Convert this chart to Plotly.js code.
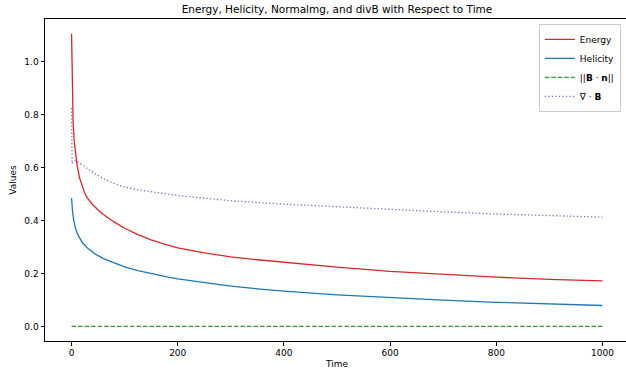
<!DOCTYPE html>
<html>
<head>
<meta charset="utf-8">
<script src="https://cdn.plot.ly/plotly-3.0.1.min.js"></script>
<style>html,body{margin:0;padding:0;background:#fff;overflow:hidden;}#chart{width:629px;height:369px;}</style>
</head>
<body>
<div id="chart"></div>
<script>
// Data
const energyT = [0, 1, 2, 3, 5, 7, 10, 15, 20, 25, 30, 40, 50, 60, 80, 100, 125, 150, 175, 200, 250, 300, 350, 400, 500, 600, 700, 800, 900, 1000];
const energyV = [1.107, 0.93, 0.83, 0.77, 0.70, 0.662, 0.615, 0.562, 0.528, 0.503, 0.485, 0.46, 0.44, 0.423, 0.395, 0.371, 0.347, 0.327, 0.311, 0.297, 0.278, 0.263, 0.252, 0.242, 0.224, 0.208, 0.196, 0.186, 0.178, 0.172];

const helicityT = [0, 1, 2, 4, 8, 12, 20, 30, 45, 60, 80, 100, 125, 150, 180, 200, 250, 300, 350, 400, 500, 600, 700, 800, 900, 1000];
const helicityV = [0.485, 0.452, 0.432, 0.402, 0.367, 0.346, 0.318, 0.296, 0.273, 0.256, 0.239, 0.225, 0.211, 0.199, 0.187, 0.18, 0.165, 0.152, 0.142, 0.133, 0.119, 0.108, 0.099, 0.091, 0.085, 0.079];

const normalT = [0, 1000];
const normalV = [0, 0];

const divBT = [0, 1, 2, 5, 8, 12, 20, 33, 45, 58, 75, 90, 115, 150, 180, 200, 250, 300, 400, 500, 600, 700, 800, 900, 1000];
const divBV = [0.826, 0.615, 0.62, 0.625, 0.627, 0.622, 0.61, 0.592, 0.576, 0.561, 0.545, 0.533, 0.52, 0.508, 0.5, 0.495, 0.484, 0.475, 0.462, 0.452, 0.441, 0.433, 0.425, 0.419, 0.413];

const xTicks = [0, 200, 400, 600, 800, 1000];
const yTicks = [0.0, 0.2, 0.4, 0.6, 0.8, 1.0];

const font = {family: 'DejaVu Sans', size: 9, color: '#000'};

const traces = [
  {x: energyT, y: energyV, mode: 'lines', name: 'Energy', line: {color: '#d62728', width: 1.3}},
  {x: helicityT, y: helicityV, mode: 'lines', name: 'Helicity', line: {color: '#1f77b4', width: 1.3}},
  {x: normalT, y: normalV, mode: 'lines', name: '||<b>B</b> · <b>n</b>||', line: {color: '#2ca02c', width: 1.3, dash: '4.5px,2px'}},
  {x: divBT, y: divBV, mode: 'lines', name: '∇ · <b>B</b>', line: {color: '#9467bd', width: 1.3, dash: '1.3px,2.2px'}}
];

const layout = {
  width: 629, height: 369,
  margin: {l: 45, r: 0, t: 19, b: 28},
  paper_bgcolor: '#fff', plot_bgcolor: '#fff',
  font: font,
  title: {text: 'Energy, Helicity, Normalmg, and divB with Respect to Time', font: {family: 'DejaVu Sans', size: 10.5, color: '#000'}, xref: 'paper', x: 0.5, xanchor: 'center', yref: 'container', y: 0.975, yanchor: 'middle'},
  xaxis: {
    range: [-50, 1050], tickvals: xTicks, ticktext: xTicks.map(String),
    showgrid: false, zeroline: false, showline: true, mirror: true, linecolor: '#000', linewidth: 1,
    ticks: 'outside', ticklen: 3.5, tickcolor: '#000', tickfont: font,
    title: {text: 'Time', font: font, standoff: 4}
  },
  yaxis: {
    range: [-0.0553, 1.1623], tickvals: yTicks, ticktext: yTicks.map(v => v.toFixed(1)),
    showgrid: false, zeroline: false, showline: true, mirror: true, linecolor: '#000', linewidth: 1,
    ticks: 'outside', ticklen: 3.5, tickcolor: '#000', tickfont: font,
    title: {text: 'Values', font: font, standoff: 6}
  },
  legend: {x: 0.986, y: 0.985, xanchor: 'right', yanchor: 'top', bgcolor: 'rgba(255,255,255,0.8)', bordercolor: '#ccc', borderwidth: 1, font: font, tracegroupgap: 0, itemwidth: 30},
  showlegend: true
};

Plotly.newPlot('chart', traces, layout, {displayModeBar: false, staticPlot: true});
</script>
</body>
</html>
